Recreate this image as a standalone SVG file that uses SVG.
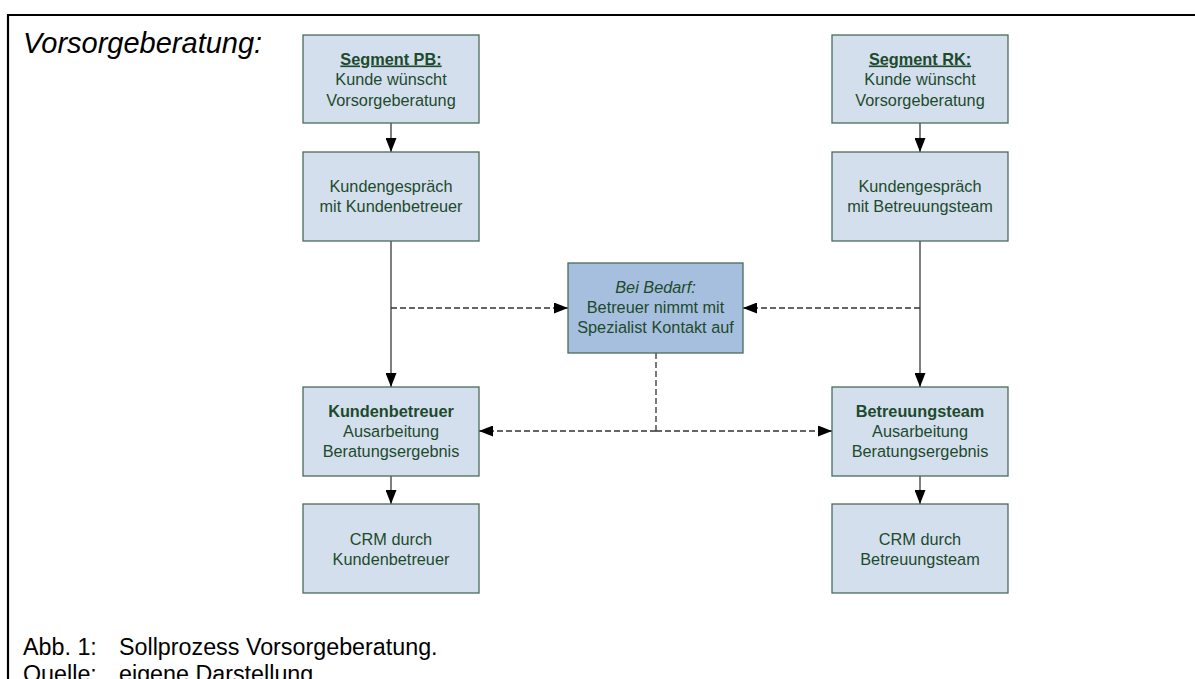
<svg xmlns="http://www.w3.org/2000/svg" width="1195" height="679" viewBox="0 0 1195 679">
<style>
.box{fill:#d4dfee;stroke:#4c6b5a;stroke-width:1.3}
.mid{fill:#a7bfde;stroke:#4c6b5a;stroke-width:1.3}
.t{font-family:"Liberation Sans",Arial,sans-serif;font-size:16.3px;fill:#1d4a2c;text-anchor:middle}
.b{font-weight:bold}
.i{font-style:italic}
.solid{stroke:#3a3a3a;stroke-width:1.3;fill:none}
.dash{stroke:#333;stroke-width:1.3;fill:none;stroke-dasharray:6 3}
.cap{font-family:"Liberation Sans",Arial,sans-serif;fill:#000}
</style>
<defs>
<marker id="ah" markerWidth="14" markerHeight="11" refX="14" refY="5.5" orient="auto" markerUnits="userSpaceOnUse">
<path d="M0,0 L14,5.5 L0,11 Z" fill="#000"/>
</marker>
</defs>
<rect width="1195" height="679" fill="#fff"/>
<g id="frame">
<path d="M8,679 L8,15 L1195,15" fill="none" stroke="#000" stroke-width="2.2"/>
</g>
<text class="cap" x="23" y="53" font-size="29" font-style="italic">Vorsorgeberatung:</text>
<g id="connectors">
<line class="solid" x1="391" y1="123" x2="391" y2="152" marker-end="url(#ah)"/>
<line class="solid" x1="391" y1="241" x2="391" y2="387" marker-end="url(#ah)"/>
<line class="solid" x1="920" y1="123" x2="920" y2="152" marker-end="url(#ah)"/>
<line class="solid" x1="920" y1="241" x2="920" y2="387" marker-end="url(#ah)"/>
<line class="solid" x1="391" y1="476" x2="391" y2="504" marker-end="url(#ah)"/>
<line class="solid" x1="920" y1="476" x2="920" y2="504" marker-end="url(#ah)"/>
<line class="dash" x1="391" y1="308" x2="568" y2="308" marker-end="url(#ah)"/>
<line class="dash" x1="920" y1="308" x2="743" y2="308" marker-end="url(#ah)"/>
<line class="dash" x1="656" y1="353" x2="656" y2="431"/>
<line class="dash" x1="656" y1="431" x2="479" y2="431" marker-end="url(#ah)"/>
<line class="dash" x1="656" y1="431" x2="832" y2="431" marker-end="url(#ah)"/>
</g>
<g id="pb-start">
<rect class="box" x="303" y="35" width="176" height="88"/>
<text class="t b" x="391" y="64.5" text-decoration="underline">Segment PB:</text>
<text class="t" x="391" y="85">Kunde wünscht</text>
<text class="t" x="391" y="105.5">Vorsorgeberatung</text>
</g>
<g id="pb-gespraech">
<rect class="box" x="303" y="152" width="176" height="89"/>
<text class="t" x="391" y="192">Kundengespräch</text>
<text class="t" x="391" y="212">mit Kundenbetreuer</text>
</g>
<g id="pb-ausarbeitung">
<rect class="box" x="303" y="387" width="176" height="89"/>
<text class="t b" x="391" y="417">Kundenbetreuer</text>
<text class="t" x="391" y="437">Ausarbeitung</text>
<text class="t" x="391" y="457">Beratungsergebnis</text>
</g>
<g id="pb-crm">
<rect class="box" x="303" y="504" width="176" height="89"/>
<text class="t" x="391" y="545">CRM durch</text>
<text class="t" x="391" y="565">Kundenbetreuer</text>
</g>
<g id="rk-start">
<rect class="box" x="832" y="35" width="176" height="88"/>
<text class="t b" x="920" y="64.5" text-decoration="underline">Segment RK:</text>
<text class="t" x="920" y="85">Kunde wünscht</text>
<text class="t" x="920" y="105.5">Vorsorgeberatung</text>
</g>
<g id="rk-gespraech">
<rect class="box" x="832" y="152" width="176" height="89"/>
<text class="t" x="920" y="192">Kundengespräch</text>
<text class="t" x="920" y="212">mit Betreuungsteam</text>
</g>
<g id="rk-ausarbeitung">
<rect class="box" x="832" y="387" width="176" height="89"/>
<text class="t b" x="920" y="417">Betreuungsteam</text>
<text class="t" x="920" y="437">Ausarbeitung</text>
<text class="t" x="920" y="457">Beratungsergebnis</text>
</g>
<g id="rk-crm">
<rect class="box" x="832" y="504" width="176" height="89"/>
<text class="t" x="920" y="545">CRM durch</text>
<text class="t" x="920" y="565">Betreuungsteam</text>
</g>
<g id="spezialist">
<rect class="mid" x="568" y="263" width="175" height="90"/>
<text class="t i" x="655.5" y="293">Bei Bedarf:</text>
<text class="t" x="655.5" y="313">Betreuer nimmt mit</text>
<text class="t" x="655.5" y="333">Spezialist Kontakt auf</text>
</g>
<g id="caption">
<text class="cap" x="23" y="655" font-size="23.3">Abb. 1:</text>
<text class="cap" x="119" y="655" font-size="23.3">Sollprozess Vorsorgeberatung.</text>
<text class="cap" x="23" y="682" font-size="23.3">Quelle:</text>
<text class="cap" x="119" y="682" font-size="23.3">eigene Darstellung</text>
</g>
</svg>
